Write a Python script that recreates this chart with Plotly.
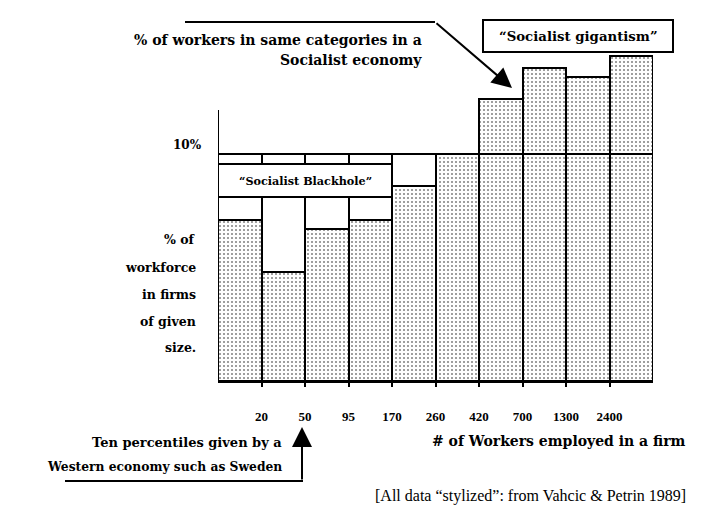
import plotly.graph_objects as go

# Firm-size classes (upper bounds of each decile, number of workers)
size_bounds = ["20", "50", "95", "170", "260", "420", "700", "1300", "2400"]
# Western economy: each decile holds 10% of the workforce
western_share = [10, 10, 10, 10, 10, 10, 10, 10, 10, 10]
# Socialist economy: share of workforce in the same size classes (%)
socialist_share = [7.1, 4.8, 6.7, 7.1, 8.6, 10.0, 12.4, 13.8, 13.4, 14.3]

W, H = 708, 515
L, R, T, B = 218, 55, 20, 134
PW, PH = W - L - R, H - T - B
YMAX = 15.9

SERIF = "Liberation Serif"
BOLD_SERIF = "DejaVu Serif"


def xp(px):
    return (px - L) / PW


def yp(py):
    return (H - B - py) / PH


def ydata(py):
    return (H - B - py) / PH * YMAX


centers = [i + 0.5 for i in range(len(socialist_share))]

fig = go.Figure()

fig.add_trace(go.Bar(
    x=centers, y=socialist_share, width=1,
    marker=dict(color="white",
                pattern=dict(shape=".", size=4, solidity=0.2,
                             fgcolor="black", bgcolor="white"),
                line=dict(color="black", width=2)),
    hoverinfo="skip", showlegend=False,
))
fig.add_trace(go.Bar(
    x=centers, y=western_share, width=1,
    marker=dict(color="rgba(0,0,0,0)", line=dict(color="black", width=2)),
    hoverinfo="skip", showlegend=False,
))

shapes = [
    # left axis
    dict(type="line", xref="x", yref="y", x0=0, x1=0, y0=0, y1=ydata(110),
         line=dict(color="black", width=2)),
    # "Socialist Blackhole" box
    dict(type="rect", xref="x", yref="y", x0=0, x1=4, y0=ydata(197), y1=ydata(164),
         fillcolor="white", line=dict(color="black", width=2), layer="above"),
    # "Socialist gigantism" box
    dict(type="rect", xref="paper", yref="paper", x0=xp(483), x1=xp(673),
         y0=yp(52), y1=yp(20), fillcolor="white",
         line=dict(color="black", width=2), layer="above"),
    # leader line of the top arrow
    dict(type="line", xref="paper", yref="paper", x0=xp(185), x1=xp(435),
         y0=yp(22), y1=yp(22), line=dict(color="black", width=2)),
    # leader line of the bottom arrow
    dict(type="line", xref="paper", yref="paper", x0=xp(65), x1=xp(303),
         y0=yp(481), y1=yp(481), line=dict(color="black", width=2)),
]


def label(text, x, y, size=14, anchor="right", bold=True):
    return dict(text=text, xref="paper", yref="paper",
                x=xp(x), y=yp(y), xanchor=anchor, yanchor="middle",
                showarrow=False,
                font=dict(family=BOLD_SERIF if bold else SERIF, size=size,
                          color="black", weight=700 if bold else 400))


annotations = [
    label("10%", 204, 145, size=12),
    label("% of workers in same categories in a", 424, 40),
    label("Socialist economy", 424, 60),
    label("“Socialist gigantism”", 578, 36, size=13.3, anchor="center"),
    dict(text="“Socialist Blackhole”", xref="x", yref="y", x=2,
         y=(ydata(197) + ydata(164)) / 2, showarrow=False,
         font=dict(family=BOLD_SERIF, size=11.2, color="black", weight=700)),
    label("% of", 198, 240, size=12.5),
    label("workforce", 198, 267, size=12.5),
    label("in firms", 198, 294, size=12.5),
    label("of given", 198, 321, size=12.5),
    label("size.", 198, 347, size=12.5),
    label("Ten percentiles given by a", 284, 443, size=13),
    label("Western economy such as Sweden", 284, 466, size=12.3),
    label("# of Workers employed in a firm", 688, 441),
    label("[All data “stylized”: from Vahcic & Petrin 1989]", 688, 496, size=16, bold=False),
    # arrows
    dict(text="", xref="paper", yref="paper", x=xp(512), y=yp(88),
         ax=435 - 512, ay=22 - 88, axref="pixel", ayref="pixel",
         showarrow=True, arrowhead=2, arrowsize=2, arrowwidth=2, arrowcolor="black"),
    dict(text="", xref="paper", yref="paper", x=xp(302), y=yp(427),
         ax=0, ay=481 - 427, axref="pixel", ayref="pixel",
         showarrow=True, arrowhead=2, arrowsize=2, arrowwidth=2, arrowcolor="black"),
]

fig.update_layout(
    width=W, height=H,
    margin=dict(l=L, r=R, t=T, b=B),
    paper_bgcolor="white", plot_bgcolor="white",
    barmode="overlay", bargap=0,
    shapes=shapes, annotations=annotations,
    xaxis=dict(range=[0, 10], tickvals=list(range(1, 10)), ticktext=size_bounds,
               ticks="outside", ticklen=4, tickwidth=2, tickcolor="black",
               showline=True, linewidth=2, linecolor="black",
               showgrid=False, zeroline=False, ticklabelstandoff=18,
               tickfont=dict(family=SERIF, size=13, color="black", weight=700)),
    yaxis=dict(range=[0, YMAX], visible=False, showgrid=False, zeroline=False),
)

fig.write_html("out.html")
